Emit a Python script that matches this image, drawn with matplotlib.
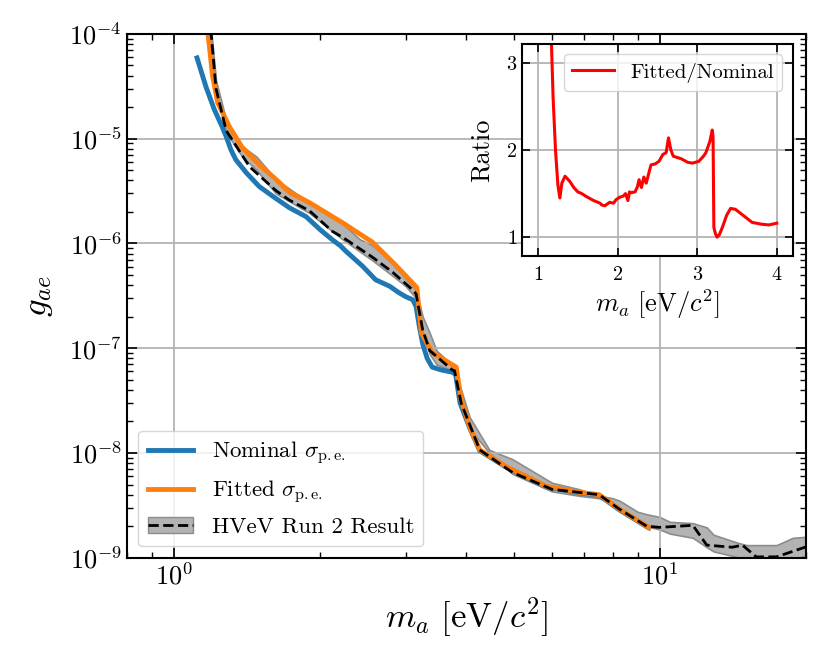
import numpy as np
import matplotlib.pyplot as plt
from matplotlib.patches import Patch
from matplotlib.lines import Line2D
from matplotlib.ticker import NullFormatter

plt.rcParams['font.family'] = 'serif'
plt.rcParams['font.serif'] = ['cmr10']
plt.rcParams['mathtext.fontset'] = 'cm'
plt.rcParams['axes.formatter.use_mathtext'] = True
plt.rcParams['axes.unicode_minus'] = False

# nominal sigma_pe limit
nom_x = [1.115, 1.164, 1.21, 1.256, 1.28, 1.31, 1.34, 1.41, 1.497, 1.6, 1.725, 1.87, 2.0, 2.12,
         2.2, 2.26, 2.37, 2.45, 2.6, 2.78, 2.9, 3.0, 3.1, 3.15, 3.2, 3.25, 3.32, 3.4, 3.55, 3.74,
         3.8, 3.88, 4.06, 4.26, 4.83, 5.85, 6.84, 7.5, 8.27, 9.4, 9.5]
nom_y = [5.9e-5, 3.1e-5, 1.9e-5, 1.3e-5, 1.05e-5, 7.8e-6, 6.3e-6, 4.7e-6, 3.5e-6, 2.8e-6,
         2.2e-6, 1.8e-6, 1.35e-6, 1.08e-6, 9.5e-7, 8.4e-7, 6.9e-7, 6.0e-7, 4.5e-7, 3.9e-7,
         3.4e-7, 3.1e-7, 2.9e-7, 2.5e-7, 1.6e-7, 1.1e-7, 8.0e-8, 6.6e-8, 6.2e-8, 5.9e-8,
         5.6e-8, 3.0e-8, 1.74e-8, 1.05e-8, 7.3e-9, 4.75e-9, 4.15e-9, 3.95e-9, 2.85e-9, 1.98e-9,
         1.93e-9]

# fitted sigma_pe limit
fit_x = [1.17, 1.20, 1.23, 1.30, 1.38, 1.5, 1.62, 1.725, 1.9, 2.22, 2.56, 2.85, 3.16, 3.23, 3.4,
         3.81, 3.9, 4.06, 4.26, 4.83, 5.85, 6.84, 7.5, 8.27, 9.4, 9.5]
fit_y = [1.2e-4, 4.0e-5, 2.2e-5, 1.3e-5, 8.3e-6, 5.6e-6, 4.1e-6, 3.1e-6, 2.45e-6, 1.58e-6,
         1.03e-6, 6.3e-7, 3.8e-7, 1.4e-7, 9.1e-8, 6.6e-8, 3.2e-8, 1.78e-8, 1.07e-8, 7.4e-9,
         4.8e-9, 4.2e-9, 4.0e-9, 2.9e-9, 2.0e-9, 1.95e-9]

# HVeV Run 2 published result
res_x = [1.19, 1.22, 1.28, 1.43, 1.62, 1.725, 1.9, 2.12, 2.22, 2.56, 2.82, 3.1, 3.15, 3.25,
         3.36, 3.74, 3.78, 3.9, 4.26, 4.98, 6.0, 7.5, 8.27, 9.4, 10.0, 11.7, 12.5, 14.1, 14.8,
         15.8, 17.4, 19.9, 20.5]
res_y = [1.1e-4, 3.0e-5, 1.2e-5, 5.4e-6, 3.2e-6, 2.6e-6, 2.05e-6, 1.3e-6, 1.15e-6, 7.4e-7,
         5.3e-7, 3.6e-7, 3.3e-7, 1.5e-7, 9.5e-8, 6.2e-8, 6.1e-8, 3.0e-8, 1.07e-8, 6.5e-9,
         4.5e-9, 4.0e-9, 2.9e-9, 2.0e-9, 1.95e-9, 2.04e-9, 1.32e-9, 1.26e-9, 1.32e-9, 1.02e-9,
         1.02e-9, 1.26e-9, 1.3e-9]

# result uncertainty band
band_x = [1.19, 1.22, 1.28, 1.38, 1.48, 1.62, 1.9, 2.22, 2.41, 2.56, 2.82, 3.0, 3.15, 3.25,
          3.36, 3.47, 3.78, 3.87, 4.06, 4.46, 4.98, 6.0, 6.84, 7.5, 8.0, 8.27, 9.0, 9.4, 10.0,
          10.5, 11.7, 12.5, 12.9, 14.4, 15.1, 17.4, 18.8, 20.5]
band_hi = [1.2e-4, 3.6e-5, 1.5e-5, 8.5e-6, 6.7e-6, 4.1e-6, 2.45e-6, 1.55e-6, 1.1e-6, 9.6e-7,
           6.5e-7, 4.6e-7, 3.6e-7, 2.0e-7, 1.4e-7, 9.5e-8, 6.6e-8, 4.5e-8, 2.2e-8, 1.07e-8,
           8.7e-9, 5.2e-9, 4.5e-9, 3.9e-9, 3.7e-9, 3.5e-9, 2.75e-9, 2.6e-9, 2.45e-9, 2.2e-9,
           2.14e-9, 1.95e-9, 1.66e-9, 1.4e-9, 1.32e-9, 1.32e-9, 1.55e-9, 1.6e-9]
band_lo = [1.0e-4, 2.8e-5, 1.15e-5, 6.8e-6, 5.0e-6, 3.0e-6, 1.95e-6, 1.1e-6, 8.4e-7, 6.9e-7,
           4.9e-7, 3.9e-7, 3.0e-7, 1.4e-7, 8.8e-8, 7.0e-8, 6.0e-8, 2.9e-8, 1.7e-8, 1.0e-8,
           6.3e-9, 4.3e-9, 3.9e-9, 3.7e-9, 3.3e-9, 2.9e-9, 2.3e-9, 2.0e-9, 1.86e-9, 1.7e-9,
           1.55e-9, 1.26e-9, 1.15e-9, 1.02e-9, 0.9e-9, 0.85e-9, 0.95e-9, 1.1e-9]

# Fitted / Nominal ratio
ratio_x = [1.15, 1.17, 1.19, 1.22, 1.25, 1.275, 1.30, 1.34, 1.40, 1.45, 1.50, 1.55, 1.60, 1.70,
           1.78, 1.80, 1.84, 1.90, 1.95, 1.98, 2.03, 2.07, 2.10, 2.13, 2.15, 2.17, 2.22, 2.25,
           2.27, 2.30, 2.33, 2.36, 2.42, 2.47, 2.52, 2.57, 2.61, 2.64, 2.67, 2.70, 2.73, 2.80,
           2.88, 2.94, 3.02, 3.08, 3.11, 3.16, 3.19, 3.20, 3.21, 3.23, 3.25, 3.28, 3.32, 3.37,
           3.42, 3.48, 3.55, 3.69, 3.80, 3.90, 4.00]
ratio_y = [3.6, 3.2, 2.6, 2.0, 1.6, 1.45, 1.62, 1.70, 1.64, 1.57, 1.52, 1.50, 1.47, 1.42,
           1.39, 1.37, 1.36, 1.40, 1.39, 1.43, 1.46, 1.47, 1.50, 1.42, 1.52, 1.51, 1.52, 1.58,
           1.66, 1.57, 1.69, 1.62, 1.83, 1.84, 1.87, 1.95, 1.97, 2.14, 2.00, 1.93, 1.92, 1.90,
           1.86, 1.85, 1.87, 1.93, 1.97, 2.10, 2.23, 2.15, 1.11, 1.04, 1.00, 1.03, 1.12, 1.25,
           1.33, 1.32, 1.27, 1.17, 1.15, 1.14, 1.16]

fig = plt.figure(figsize=(8.3, 6.64), dpi=100)
ax = fig.add_axes([0.153, 0.160, 0.818, 0.789])

ax.fill_between(band_x, band_lo, band_hi, facecolor='0.7', edgecolor='0.55', lw=1.2)
ax.plot(nom_x, nom_y, color='tab:blue', lw=3.5, label=r'Nominal $\sigma_{\rm p.e.}$')
ax.plot(fit_x, fit_y, color='tab:orange', lw=3.5, label=r'Fitted $\sigma_{\rm p.e.}$')
ax.plot(res_x, res_y, color='black', ls='--', lw=2)
h, l = ax.get_legend_handles_labels()
h.append((Patch(facecolor='0.7', edgecolor='0.55'), Line2D([], [], color='black', ls='--', lw=2)))
l.append('HVeV Run 2 Result')

ax.set_xscale('log')
ax.set_yscale('log')
ax.set_xlim(0.8, 20)
ax.set_ylim(1e-9, 1e-4)
ax.xaxis.set_minor_formatter(NullFormatter())
ax.yaxis.set_minor_formatter(NullFormatter())
ax.set_xlabel(r'$m_a\ [\mathrm{eV}/c^2]$', fontsize=25)
ax.set_ylabel(r'$g_{ae}$', fontsize=25, labelpad=10)
ax.tick_params(which='both', direction='in', top=True, right=True, labelsize=19)
ax.tick_params(which='major', length=7, width=1.2)
ax.tick_params(which='minor', length=4, width=1)
ax.grid(True, which='major', color='0.7', lw=1.3)
for s in ax.spines.values():
    s.set_linewidth(1.5)
ax.legend(h, l, loc='lower left', fontsize=16.5, framealpha=0.8, handlelength=2.0)

ins = fig.add_axes([0.629, 0.614, 0.326, 0.320])
ins.plot(ratio_x, ratio_y, color='red', lw=2.2, label='Fitted/Nominal')
ins.set_xlim(0.8, 4.2)
ins.set_ylim(0.78, 3.22)
ins.set_xticks([1, 2, 3, 4])
ins.set_yticks([1, 2, 3])
ins.set_xlabel(r'$m_a\ [\mathrm{eV}/c^2]$', fontsize=19, labelpad=2)
ins.set_ylabel('Ratio', fontsize=19, labelpad=9)
ins.tick_params(direction='in', top=True, right=True, labelsize=14.5, length=6, width=1.2)
ins.tick_params(axis='x', pad=7)
ins.grid(True, color='0.7', lw=1.3)
for s in ins.spines.values():
    s.set_linewidth(1.5)
ins.legend(loc='upper right', fontsize=15, framealpha=0.8)

fig.savefig('out.png', dpi=100)
